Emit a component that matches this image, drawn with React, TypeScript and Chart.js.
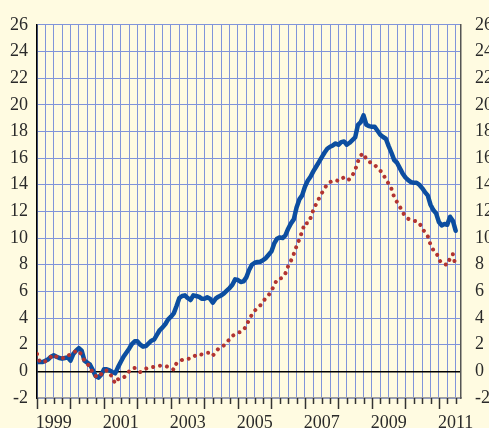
import React, { useEffect, useRef } from "react";
import { Chart, registerables } from "chart.js";

Chart.register(...registerables);

// Monthly series starting January 1999
const START_YEAR = 1999;
const blueSeries = [
  0.7, 0.7, 0.7, 0.8, 0.9, 1.1, 1.2, 1.1, 1.0, 0.95, 1.0, 1.05,
  0.8, 1.3, 1.55, 1.75, 1.55, 0.8, 0.65, 0.5, 0.1, -0.35, -0.47, -0.25,
  0.15, 0.15, 0.07, -0.05, -0.15, 0.3, 0.7, 1.1, 1.4, 1.7, 2.05, 2.25,
  2.25, 2.0, 1.85, 1.9, 2.1, 2.3, 2.4, 2.75, 3.1, 3.3, 3.55, 3.9,
  4.1, 4.35, 4.9, 5.5, 5.65, 5.7, 5.5, 5.35, 5.7, 5.65, 5.6, 5.45,
  5.45, 5.55, 5.45, 5.15, 5.45, 5.6, 5.7, 5.85, 6.05, 6.25, 6.5, 6.9,
  6.85, 6.7, 6.75, 7.05, 7.6, 8.0, 8.15, 8.2, 8.22, 8.35, 8.5, 8.75,
  9.0, 9.6, 9.95, 10.05, 10.0, 10.2, 10.7, 11.1, 11.4, 12.3, 12.9, 13.2,
  13.85, 14.3, 14.6, 15.0, 15.35, 15.7, 16.05, 16.4, 16.7, 16.85, 16.95, 17.1,
  17.0, 17.2, 17.25, 17.0, 17.15, 17.35, 17.55, 18.5, 18.7, 19.2, 18.5, 18.4,
  18.35, 18.35, 18.05, 17.75, 17.58, 17.45, 16.9, 16.4, 15.85, 15.65, 15.25, 14.85,
  14.55, 14.35, 14.2, 14.15, 14.15, 14.0, 13.75, 13.45, 13.2, 12.5, 12.1, 11.85,
  11.2, 10.95, 11.05, 11.0, 11.6, 11.3, 10.55,
];
const redSeries = [
  1.3, 0.7, 0.7, 0.75, 0.9, 1.1, 1.25, 1.1, 1.0, 1.0, 1.0, 1.15,
  1.3, 1.45, 1.5, 1.55, 1.2, 0.8, 0.55, 0.37, -0.17, -0.35, -0.45, -0.2,
  0.05, 0.07, -0.1, -0.5, -0.9, -0.6, -0.47, -0.47, -0.3, 0.0, 0.2, 0.25,
  0.05, -0.05, 0.1, 0.2, 0.25, 0.3, 0.35, 0.4, 0.42, 0.44, 0.4, 0.33,
  0.25, 0.12, 0.62, 0.75, 0.86, 0.9, 0.94, 0.97, 1.05, 1.25, 1.3, 1.26,
  1.3, 1.38, 1.4, 1.18, 1.45, 1.7, 1.82, 1.95, 2.2, 2.4, 2.65, 2.8,
  2.91, 2.94, 3.1, 3.4, 3.9, 4.25, 4.55, 4.75, 4.95, 5.25, 5.5, 5.72,
  6.05, 6.45, 6.9, 6.95, 7.04, 7.35, 7.9, 8.3, 8.8, 9.4, 9.9, 10.5,
  11.15, 11.1, 11.5, 12.1, 12.55, 12.95, 13.35, 13.7, 14.05, 14.2, 14.3, 14.35,
  14.28, 14.45, 14.55, 14.35, 14.4, 14.7, 15.1, 15.75, 16.2, 16.35, 15.9, 15.7,
  15.65, 15.5, 15.25, 15.05, 14.85, 14.35, 14.1, 13.7, 13.05, 12.7, 12.35, 11.95,
  11.6, 11.45, 11.35, 11.3, 11.25, 11.15, 10.7, 10.45, 10.15, 9.5, 9.1, 8.95,
  8.4, 8.1, 8.05, 7.98, 8.5, 8.8, 7.9,
];
const yearLabels = ["1999", "2001", "2003", "2005", "2007", "2009", "2011"];
const X_MIN = 1999;
const X_MAX = 2011.66;
const Y_MIN = -2;
const Y_MAX = 26;
const Y_STEP = 2;

const BG = "rgb(255,251,225)";
const GRID = "rgb(128,148,218)";
const TEXT = "#2a2a2a";
const FONT = { family: "'Liberation Serif', 'Times New Roman', serif", size: 18 };

const toPoints = (arr: number[]) =>
  arr.map((v, i) => ({ x: START_YEAR + i / 12, y: v }));

const bgPlugin = {
  id: "bgFill",
  beforeDraw(chart: any) {
    const ctx = chart.ctx;
    ctx.save();
    ctx.fillStyle = BG;
    ctx.fillRect(0, 0, chart.width, chart.height);
    ctx.restore();
  },
};

const tickPlugin = {
  id: "xTickMarks",
  afterDraw(chart: any) {
    const xs = chart.scales.x;
    const area = chart.chartArea;
    const ctx = chart.ctx;
    ctx.save();
    ctx.strokeStyle = "#333";
    ctx.lineWidth = 1.5;
    xs.ticks.forEach((t: any) => {
      const px = Math.round(xs.getPixelForValue(t.value)) + 0.5;
      const isYear = Math.abs(t.value - Math.round(t.value)) < 1e-6;
      const len = isYear ? 11 : 6;
      ctx.beginPath();
      ctx.moveTo(px, area.bottom);
      ctx.lineTo(px, area.bottom + len);
      ctx.stroke();
    });
    ctx.restore();
  },
};

export default function App() {
  const ref = useRef<HTMLCanvasElement | null>(null);
  useEffect(() => {
    if (!ref.current) return;
    const chart = new Chart(ref.current, {
      type: "line",
      data: {
        datasets: [
          {
            data: toPoints(redSeries),
            borderColor: "rgb(178,52,48)",
            borderWidth: 4,
            borderDash: [0.01, 7],
            borderCapStyle: "round",
            borderJoinStyle: "round",
            pointRadius: 0,
            tension: 0,
            fill: false,
          },
          {
            data: toPoints(blueSeries),
            borderColor: "rgb(12,78,160)",
            borderWidth: 4.5,
            borderJoinStyle: "round",
            borderCapStyle: "round",
            pointRadius: 0,
            tension: 0,
            fill: false,
          },
        ],
      },
      options: {
        animation: false,
        responsive: false,
        devicePixelRatio: 1,
        layout: { padding: { top: 20, left: 0, right: 0, bottom: 0 } },
        plugins: { legend: { display: false }, tooltip: { enabled: false } },
        scales: {
          x: {
            type: "linear",
            min: X_MIN,
            max: X_MAX,
            afterFit: (s: any) => {
              s.height = 30;
            },
            grid: {
              color: GRID,
              lineWidth: 1,
              drawTicks: false,
            },
            border: { display: true, color: "rgb(160,160,160)", width: 1.5 },
            ticks: {
              stepSize: 0.25,
              autoSkip: false,
              maxRotation: 0,
              minRotation: 0,
              includeBounds: false,
              padding: 14,
              color: TEXT,
              font: FONT,
              callback: (v: any) => {
                const val = Number(v);
                const yr = Math.floor(val + 1e-6);
                if (Math.abs(val - yr - 0.5) < 1e-6 && yearLabels.includes(String(yr))) {
                  return String(yr);
                }
                return "";
              },
            },
          },
          y: {
            position: "left",
            min: Y_MIN,
            max: Y_MAX,
            afterFit: (s: any) => {
              s.width = 37;
            },
            grid: {
              drawTicks: false,
              color: (c: any) => (c.tick && c.tick.value === 0 ? "#000" : GRID),
              lineWidth: (c: any) => (c.tick && c.tick.value === 0 ? 1.6 : 1),
            },
            border: { display: true, color: "#000", width: 1.5 },
            ticks: { stepSize: Y_STEP, padding: 9, color: TEXT, font: FONT },
          },
          y1: {
            position: "right",
            min: Y_MIN,
            max: Y_MAX,
            afterFit: (s: any) => {
              s.width = 28;
            },
            grid: { display: false, drawTicks: false },
            border: { display: true, color: "#555", width: 1.5 },
            ticks: { stepSize: Y_STEP, padding: 14, color: TEXT, font: FONT },
          },
        },
      },
      plugins: [bgPlugin, tickPlugin],
    } as any);
    return () => chart.destroy();
  }, []);
  return (
    <div style={{ position: "fixed", left: 0, top: 0, width: 489, height: 428, background: BG }}>
      <canvas ref={ref} width={489} height={428} style={{ width: 489, height: 428, display: "block" }} />
    </div>
  );
}
